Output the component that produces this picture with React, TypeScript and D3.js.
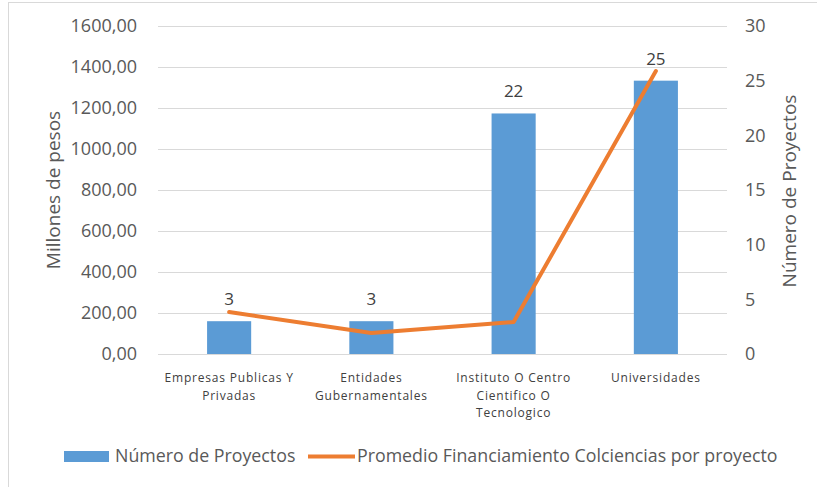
import React from "react";
import * as d3 from "d3";

const width = 817;
const height = 487;
const margin = { top: 26, right: 90, bottom: 133, left: 158 };

const categories = [
  "Empresas Publicas Y Privadas",
  "Entidades Gubernamentales",
  "Instituto O Centro Cientifico O Tecnologico",
];
const categoryLines = [
  ["Empresas Publicas Y", "Privadas"],
  ["Entidades", "Gubernamentales"],
  ["Instituto O Centro", "Cientifico O", "Tecnologico"],
  ["Universidades"],
];
const labels = [...categories, "Universidades"];
const numProyectos = [3, 3, 22, 25];
const promedioMillones = [205, 102, 156, 1380];
const leftTicks = [0, 200, 400, 600, 800, 1000, 1200, 1400, 1600];
const rightTicks = [0, 5, 10, 15, 20, 25, 30];

const font = "'Open Sans', 'Noto Sans', sans-serif";
const textColor = "#595959";
const barColor = "#5B9BD5";
const lineColor = "#ED7D31";

export default function App() {
  const plotRight = width - margin.right;
  const plotBottom = height - margin.bottom;

  const x = d3
    .scaleBand()
    .domain(labels)
    .range([margin.left, plotRight])
    .paddingInner(0.69)
    .paddingOuter(0.345);
  const yLeft = d3.scaleLinear().domain([0, 1600]).range([plotBottom, margin.top]);
  const yRight = d3.scaleLinear().domain([0, 30]).range([plotBottom, margin.top]);

  const line = d3
    .line<number>()
    .x((_, i) => x(labels[i])! + x.bandwidth() / 2)
    .y(d => yLeft(d));

  const fmt = (v: number) => d3.format(".2f")(v).replace(".", ",");

  return (
    <svg
      width={width}
      height={height}
      style={{ position: "absolute", left: 0, top: 0, background: "#fff" }}
      fontFamily={font}
    >
      <rect x={8.5} y={2.5} width={900} height={600} fill="#fff" stroke="#D9D9D9" />

      {leftTicks.map(t => (
        <g key={"gl" + t}>
          <line
            x1={margin.left}
            x2={plotRight}
            y1={Math.round(yLeft(t)) + 0.5}
            y2={Math.round(yLeft(t)) + 0.5}
            stroke="#D9D9D9"
            strokeWidth={1.2}
          />
          <text x={137} y={yLeft(t)} dy="0.35em" textAnchor="end" fontSize={18} fill={textColor}>
            {fmt(t)}
          </text>
        </g>
      ))}

      {rightTicks.map(t => (
        <text key={"r" + t} x={745} y={yRight(t)} dy="0.35em" fontSize={18} fill={textColor}>
          {t}
        </text>
      ))}

      {numProyectos.map((v, i) => (
        <g key={"b" + i}>
          <rect
            x={x(labels[i])}
            y={yRight(v)}
            width={x.bandwidth()}
            height={plotBottom - yRight(v)}
            fill={barColor}
          />
          <text
            x={x(labels[i])! + x.bandwidth() / 2}
            y={yRight(v) - 16}
            textAnchor="middle"
            fontSize={17}
            fill="#404040"
          >
            {v}
          </text>
        </g>
      ))}

      <path
        d={line(promedioMillones) || ""}
        fill="none"
        stroke={lineColor}
        strokeWidth={4}
        strokeLinejoin="round"
        strokeLinecap="round"
      />

      {categoryLines.map((ls, i) => (
        <text
          key={"c" + i}
          x={x(labels[i])! + x.bandwidth() / 2}
          y={382}
          textAnchor="middle"
          fontSize={12}
          letterSpacing={0.8}
          fill="#404040"
        >
          {ls.map((l, j) => (
            <tspan key={j} x={x(labels[i])! + x.bandwidth() / 2} dy={j === 0 ? 0 : 17.5}>
              {l}
            </tspan>
          ))}
        </text>
      ))}

      <text
        transform={`translate(53, ${(margin.top + plotBottom) / 2}) rotate(-90)`}
        textAnchor="middle"
        dy="0.35em"
        fontSize={19}
        fill={textColor}
      >
        Millones de pesos
      </text>
      <text
        transform={`translate(789, ${(margin.top + plotBottom) / 2 + 1}) rotate(-90)`}
        textAnchor="middle"
        dy="0.35em"
        fontSize={19}
        fill={textColor}
      >
        Número de Proyectos
      </text>

      <g>
        <rect x={64} y={451} width={45} height={11} fill={barColor} />
        <text x={115} y={456} dy="0.35em" fontSize={17.8} fill={textColor}>
          Número de Proyectos
        </text>
        <line x1={308} x2={355} y1={456.5} y2={456.5} stroke={lineColor} strokeWidth={4} />
        <text x={357} y={456} dy="0.35em" fontSize={17.8} fill={textColor}>
          Promedio Financiamiento Colciencias por proyecto
        </text>
      </g>
    </svg>
  );
}
